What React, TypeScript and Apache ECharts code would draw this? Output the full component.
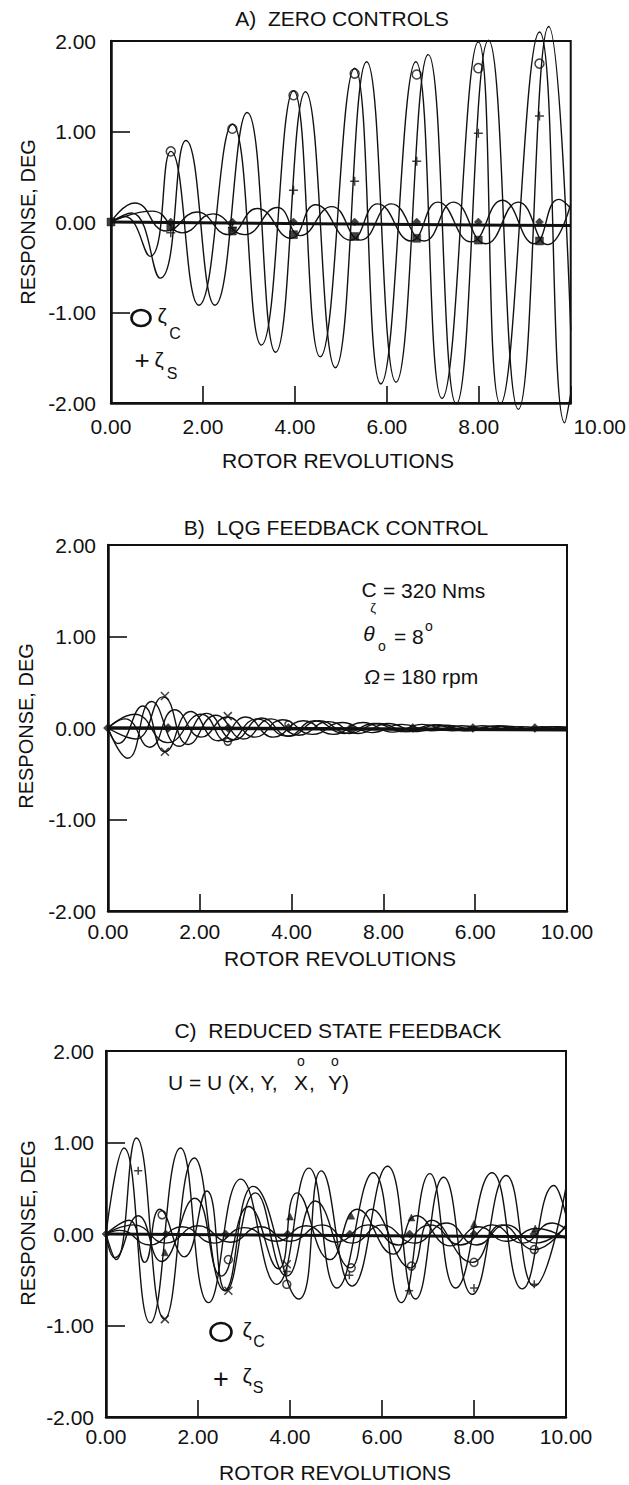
import { useEffect, useRef } from "react";
import * as echarts from "echarts";

type P = [number, number];

// ---------- tick labels ----------
const yTickValues = [-2, -1, 0, 1, 2];
const yTickLabels = ["-2.00", "-1.00", "0.00", "1.00", "2.00"];
const xTickValues = [0, 2, 4, 6, 8, 10];
const xTickLabelsA = ["0.00", "2.00", "4.00", "6.00", "8.00", "10.00"];
const xTickLabelsB = ["0.00", "2.00", "4.00", "8.00", "6.00", "10.00"];
const xTickLabelsC = ["0.00", "2.00", "4.00", "6.00", "8.00", "10.00"];

// ---------- panel A : zero controls ----------
const aZetaC: P[] = [[0, 0], [0.3, 0.06], [0.85, -0.38], [1.3, 0.78], [1.91, -0.92], [2.64, 1.08], [3.27, -1.36], [3.97, 1.45], [4.55, -1.49], [5.3, 1.7], [5.87, -1.79], [6.63, 1.77], [7.2, -1.95], [7.99, 1.99], [8.47, -2.01], [9.32, 2.1], [9.87, -2.22], [10, -1.9]];
const aZetaS: P[] = [[0, 0], [0.45, 0.1], [1.07, -0.62], [1.63, 0.9], [2.26, -0.92], [2.96, 1.21], [3.58, -1.44], [4.23, 1.44], [4.88, -1.61], [5.56, 1.77], [6.2, -1.77], [6.9, 1.85], [7.51, -2.01], [8.21, 2.01], [8.86, -2.07], [9.52, 2.16], [10, -1.2]];
const aSmall1: P[] = [[0, 0], [0.52, 0.21], [1.2, -0.1], [1.87, 0.11], [2.55, -0.14], [3.18, 0.15], [3.91, -0.18], [4.45, 0.19], [5.21, -0.2], [5.8, 0.2], [6.52, -0.21], [7.11, 0.22], [7.83, -0.22], [8.51, 0.24], [9.2, -0.24], [9.74, 0.25], [10, 0.15]];
const aSmall2: P[] = [[0, 0], [0.9, 0.12], [1.55, -0.12], [2.22, 0.09], [2.9, -0.14], [3.62, 0.16], [4.12, -0.15], [4.8, 0.17], [5.43, -0.2], [6.1, 0.2], [6.81, -0.21], [7.45, 0.22], [8.15, -0.24], [8.86, 0.22], [9.5, -0.25], [10, 0.2]];
const aZero: P[] = [[0, 0], [10, -0.04]];
const aCircleMarks: P[] = [[1.3, 0.78], [2.64, 1.03], [3.97, 1.4], [5.3, 1.64], [6.65, 1.63], [7.99, 1.7], [9.32, 1.75]];
const aPlusMarks: P[] = [[1.3, -0.12], [2.64, -0.06], [3.97, 0.35], [5.3, 0.45], [6.65, 0.67], [7.99, 0.98], [9.32, 1.17]];
const aLowMarks: P[] = [[0, 0], [1.3, -0.05], [2.64, -0.1], [3.97, -0.14], [5.3, -0.16], [6.65, -0.18], [7.99, -0.2], [9.32, -0.21]];
const aZeroMarks: P[] = [[1.3, 0], [2.64, 0], [3.97, 0], [5.3, 0], [6.65, 0], [7.99, 0], [9.32, 0]];

// ---------- panel B : LQG feedback control ----------
const bCurve1: P[] = [[0, 0], [0.43, -0.33], [0.95, 0.29], [1.55, -0.2], [2.15, 0.16], [2.75, -0.13], [3.35, 0.11], [3.95, -0.09], [4.6, 0.08], [5.25, -0.06], [5.9, 0.05], [6.55, -0.04], [7.2, 0.035], [7.85, -0.03], [8.5, 0.025], [9.15, -0.02], [9.8, 0.015], [10, 0.01]];
const bCurve2: P[] = [[0, 0], [0.22, -0.17], [0.76, 0.24], [1.24, -0.26], [1.8, 0.18], [2.4, -0.14], [3.0, 0.12], [3.6, -0.1], [4.25, 0.08], [4.9, -0.07], [5.55, 0.06], [6.2, -0.045], [6.85, 0.04], [7.5, -0.03], [8.15, 0.025], [8.8, -0.02], [9.45, 0.015], [10, -0.01]];
const bCurve3: P[] = [[0, 0], [0.6, -0.12], [1.2, 0.34], [1.75, -0.18], [2.35, 0.14], [2.95, -0.12], [3.55, 0.1], [4.15, -0.08], [4.8, 0.07], [5.45, -0.06], [6.1, 0.05], [6.75, -0.04], [7.4, 0.03], [8.05, -0.025], [8.7, 0.02], [9.35, -0.015], [10, 0.01]];
const bCurve4: P[] = [[0, 0], [0.37, 0.1], [0.91, -0.21], [1.45, 0.2], [2.03, -0.1], [2.6, 0.12], [3.2, -0.1], [3.8, 0.09], [4.45, -0.07], [5.1, 0.06], [5.75, -0.05], [6.4, 0.04], [7.05, -0.03], [7.7, 0.025], [8.35, -0.02], [9.0, 0.015], [9.65, -0.01], [10, 0]];
const bCurve5: P[] = [[0, 0], [0.58, 0.15], [1.3, -0.16], [2.03, 0.15], [2.61, -0.15], [3.25, 0.1], [3.9, -0.09], [4.5, 0.08], [5.15, -0.06], [5.8, 0.05], [6.45, -0.04], [7.1, 0.035], [7.75, -0.03], [8.4, 0.02], [9.05, -0.02], [9.7, 0.015], [10, 0]];
const bZero: P[] = [[0, 0], [10, -0.02]];
const bZeroMarks: P[] = [[0, 0], [1.31, 0], [2.62, 0], [3.93, 0], [5.29, 0], [6.64, 0], [7.95, 0], [9.3, 0]];
const bCrossMarks: P[] = [[1.24, 0.35], [1.24, -0.26], [2.61, 0.13]];
const bCircleMarks: P[] = [[2.61, -0.15], [3.93, 0.04]];

// ---------- panel C : reduced state feedback ----------
const cBig1: P[] = [[0, 0], [0.39, 0.94], [0.96, -0.97], [1.62, 0.94], [2.23, -0.75], [2.93, 0.6], [3.71, -0.55], [4.41, 0.72], [5.02, -0.59], [5.81, 0.67], [6.42, -0.75], [7.04, 0.66], [7.6, -0.59], [8.39, 0.67], [9.05, -0.6], [9.74, 0.53], [10, 0.2]];
const cBig2: P[] = [[0, 0], [0.22, -0.28], [0.66, 1.05], [1.27, -0.93], [1.92, 0.83], [2.58, -0.62], [3.2, 0.52], [4.19, -0.71], [4.68, 0.69], [5.35, -0.57], [6.12, 0.74], [6.73, -0.71], [7.34, 0.62], [7.96, -0.66], [8.7, 0.64], [9.31, -0.57], [10, 0.51]];
const cMed1: P[] = [[0, 0], [0.19, -0.26], [0.7, 0.2], [1.2, -0.3], [1.93, 0.39], [2.51, -0.46], [3.1, 0.3], [3.75, -0.38], [4.15, 0.45], [4.87, -0.28], [5.46, 0.27], [6.25, -0.22], [6.75, 0.2], [7.49, -0.13], [8.1, 0.08], [8.7, -0.08], [9.35, 0.06], [10, -0.05]];
const cMed2: P[] = [[0, 0], [0.5, 0.15], [0.84, -0.31], [1.17, 0.27], [1.7, -0.25], [2.19, 0.47], [2.61, -0.62], [3.25, 0.45], [3.93, -0.46], [4.55, 0.36], [5.31, -0.37], [5.77, 0.27], [6.62, -0.37], [7.08, 0.15], [7.96, -0.31], [8.6, 0.1], [9.31, -0.17], [10, 0.1]];
const cSmall1: P[] = [[0, 0], [0.6, 0.1], [1.3, -0.1], [2.0, 0.09], [2.7, -0.09], [3.35, 0.08], [4.0, -0.08], [4.7, 0.1], [5.35, -0.1], [6.0, 0.1], [6.7, -0.1], [7.4, 0.12], [8.05, -0.12], [8.7, 0.1], [9.35, -0.1], [10, 0.08]];
const cSmall2: P[] = [[0, 0], [0.3, 0.04], [0.95, -0.12], [1.65, 0.08], [2.35, -0.1], [3.0, 0.07], [3.7, -0.08], [4.35, 0.09], [5.0, -0.09], [5.7, 0.1], [6.35, -0.12], [7.05, 0.1], [7.7, -0.12], [8.4, 0.1], [9.05, -0.1], [9.7, 0.12], [10, 0.05]];
const cZero: P[] = [[0, 0], [10, -0.03]];
const cCircleMarks: P[] = [[1.22, 0.21], [2.66, -0.28], [3.93, -0.55], [5.33, -0.37], [6.64, -0.35], [8.0, -0.31], [9.31, -0.17]];
const cPlusMarks: P[] = [[0.7, 0.69], [3.93, -0.41], [5.29, -0.45], [6.59, -0.62], [8.0, -0.59], [9.31, -0.55]];
const cCrossMarks: P[] = [[1.28, -0.93], [2.66, -0.62], [3.93, -0.33]];
const cTriMarks: P[] = [[1.28, -0.2], [4.0, 0.19], [5.33, 0.2], [6.64, 0.18], [8.0, 0.11], [9.33, 0.06]];
const cZeroMarks: P[] = [[0, 0], [1.3, 0], [2.6, 0], [3.95, 0], [5.3, 0], [6.6, 0], [8.0, 0], [9.3, 0]];

// ---------- styling ----------
const FONT = "'Liberation Sans', Arial, Helvetica, sans-serif";
const INK = "#111";

const grids = [
  { left: 111, top: 41, width: 460, height: 362 },
  { left: 108, top: 545, width: 459, height: 366 },
  { left: 106, top: 1051, width: 460, height: 366 },
];

function xAxis(gi: number, labels: string[], margin: number, shiftLast: boolean) {
  return {
    type: "value",
    gridIndex: gi,
    min: 0,
    max: 10,
    interval: 2,
    axisLine: { show: true, onZero: false, lineStyle: { color: INK, width: 2.5 } },
    axisTick: { show: true, inside: true, length: 17, lineStyle: { color: INK, width: 1.6 } },
    splitLine: { show: false },
    axisLabel: {
      color: INK,
      fontSize: 21,
      fontFamily: FONT,
      margin,
      showMinLabel: true,
      showMaxLabel: true,
      formatter: (v: number) => {
        const s = labels[xTickValues.indexOf(Math.round(v))] ?? "";
        return shiftLast && v === 10 ? "{r|" + s + "}" : s;
      },
      rich: { r: { fontSize: 21, fontFamily: FONT, color: INK, padding: [0, 0, 0, 58] } },
    },
  };
}

function yAxis(gi: number, margin: number) {
  return {
    type: "value",
    gridIndex: gi,
    min: -2,
    max: 2,
    interval: 1,
    axisLine: { show: true, onZero: false, lineStyle: { color: INK, width: 2.5 } },
    axisTick: { show: true, inside: true, length: 19, lineStyle: { color: INK, width: 1.6 } },
    splitLine: { show: false },
    axisLabel: {
      color: INK,
      fontSize: 21,
      fontFamily: FONT,
      margin,
      showMinLabel: true,
      showMaxLabel: true,
      formatter: (v: number) => yTickLabels[yTickValues.indexOf(Math.round(v))] ?? "",
    },
  };
}

function line(data: P[], gi: number, width = 1.4) {
  return {
    type: "line",
    xAxisIndex: gi,
    yAxisIndex: gi,
    data,
    smooth: 0.5,
    symbol: "none",
    clip: false,
    silent: true,
    z: 3,
    lineStyle: { color: INK, width },
  };
}

function marks(data: P[], gi: number, symbol: string, size: number, filled: boolean) {
  return {
    type: "scatter",
    xAxisIndex: gi,
    yAxisIndex: gi,
    data,
    symbol,
    symbolSize: size,
    clip: false,
    silent: true,
    z: 5,
    itemStyle: {
      color: filled ? INK : "rgba(0,0,0,0)",
      borderColor: INK,
      borderWidth: filled ? 0.5 : 1.5,
    },
  };
}

const PLUS = "path://M5 0L5 10M0 5L10 5";
const CROSS = "path://M0 0L10 10M10 0L0 10";

function txt(text: string, x: number, y: number, size: number, align = "center", extra: any = {}) {
  const { italic, ...rest } = extra;
  return {
    type: "text",
    x,
    y,
    silent: true,
    z: 10,
    ...rest,
    style: {
      text,
      fill: INK,
      font: `${italic ? "italic " : ""}${size}px ${FONT}`,
      align,
      verticalAlign: "middle",
      textAlign: align,
      textVerticalAlign: "middle",
    },
  };
}

function buildOption() {
  const series: any[] = [
    // A
    line(aZero, 0, 3),
    line(aSmall1, 0),
    line(aSmall2, 0),
    line(aZetaC, 0),
    line(aZetaS, 0),
    marks(aCircleMarks, 0, "circle", 9, false),
    marks(aPlusMarks, 0, PLUS, 9, false),
    marks(aLowMarks, 0, "rect", 8, true),
    marks(aZeroMarks, 0, "diamond", 8, true),
    // B
    line(bZero, 1, 3.5),
    line(bCurve1, 1),
    line(bCurve2, 1),
    line(bCurve3, 1),
    line(bCurve4, 1),
    line(bCurve5, 1),
    marks(bZeroMarks, 1, "diamond", 9, true),
    marks(bCrossMarks, 1, CROSS, 8, false),
    marks(bCircleMarks, 1, "circle", 7, false),
    // C
    line(cZero, 2, 3),
    line(cSmall1, 2),
    line(cSmall2, 2),
    line(cMed1, 2),
    line(cMed2, 2),
    line(cBig1, 2),
    line(cBig2, 2),
    marks(cCircleMarks, 2, "circle", 8, false),
    marks(cPlusMarks, 2, PLUS, 8, false),
    marks(cCrossMarks, 2, CROSS, 8, false),
    marks(cTriMarks, 2, "triangle", 7, true),
    marks(cZeroMarks, 2, "diamond", 8, true),
  ];

  const graphic: any[] = [
    // titles
    txt("A)  ZERO CONTROLS", 342, 18, 21),
    txt("B)  LQG FEEDBACK CONTROL", 336, 527, 21),
    txt("C)  REDUCED STATE FEEDBACK", 338, 1030, 21),
    // x axis names
    txt("ROTOR REVOLUTIONS", 338, 460, 21),
    txt("ROTOR REVOLUTIONS", 340, 958, 21),
    txt("ROTOR REVOLUTIONS", 335, 1472, 21),
    // y axis names
    txt("RESPONSE, DEG", 28, 222, 20, "center", { rotation: Math.PI / 2 }),
    txt("RESPONSE, DEG", 26, 726, 20, "center", { rotation: Math.PI / 2 }),
    txt("RESPONSE, DEG", 28, 1223, 20, "center", { rotation: Math.PI / 2 }),
    // legend A
    { type: "ellipse", shape: { cx: 141, cy: 318, rx: 9.5, ry: 8 }, style: { fill: "none", stroke: INK, lineWidth: 2.6 }, z: 10, silent: true },
    txt("ζ", 162, 315, 21),
    txt("C", 175, 333, 16),
    txt("+", 142, 360, 26),
    txt("ζ", 159, 359, 21),
    txt("S", 172, 373, 16),
    // annotation B
    txt("C", 369, 589, 21),
    txt("ζ", 373, 607, 13),
    txt("= 320 Nms", 383, 590, 21, "left"),
    txt("θ", 369, 633, 21, "center", { italic: true }),
    txt("o", 382, 646, 14),
    txt("= 8", 394, 636, 21, "left"),
    txt("o", 429, 626, 14),
    txt("Ω", 372, 676, 21, "center", { italic: true }),
    txt("= 180 rpm", 383, 676, 21, "left"),
    // annotation C
    txt("U = U (X, Y,", 168, 1082, 21, "left"),
    txt("X", 301, 1082, 21),
    txt(",", 309, 1082, 21, "left"),
    txt("Y", 335, 1082, 21),
    txt(")", 342, 1082, 21, "left"),
    txt("o", 301, 1061, 14),
    txt("o", 335, 1061, 14),
    // legend C
    { type: "ellipse", shape: { cx: 221, cy: 1332, rx: 10.5, ry: 9 }, style: { fill: "none", stroke: INK, lineWidth: 2.6 }, z: 10, silent: true },
    txt("ζ", 247, 1329, 21),
    txt("C", 259, 1341, 16),
    txt("+", 221, 1379, 27),
    txt("ζ", 247, 1375, 21),
    txt("S", 258, 1387, 16),
  ];

  return {
    animation: false,
    backgroundColor: "#ffffff",
    textStyle: { fontFamily: FONT },
    grid: grids.map((g) => ({ ...g, show: true, borderColor: INK, borderWidth: 2, backgroundColor: "transparent", containLabel: false })),
    xAxis: [xAxis(0, xTickLabelsA, 13, true), xAxis(1, xTickLabelsB, 10, false), xAxis(2, xTickLabelsC, 9, false)],
    yAxis: [yAxis(0, 15), yAxis(1, 12), yAxis(2, 12)],
    series,
    graphic,
  };
}

export default function App() {
  const ref = useRef<HTMLDivElement>(null);
  useEffect(() => {
    document.body.style.margin = "0";
    const chart = echarts.init(ref.current!, null, { renderer: "svg" });
    chart.setOption(buildOption() as any);
    return () => chart.dispose();
  }, []);
  return <div ref={ref} style={{ width: 629, height: 1485, background: "#fff" }} />;
}
